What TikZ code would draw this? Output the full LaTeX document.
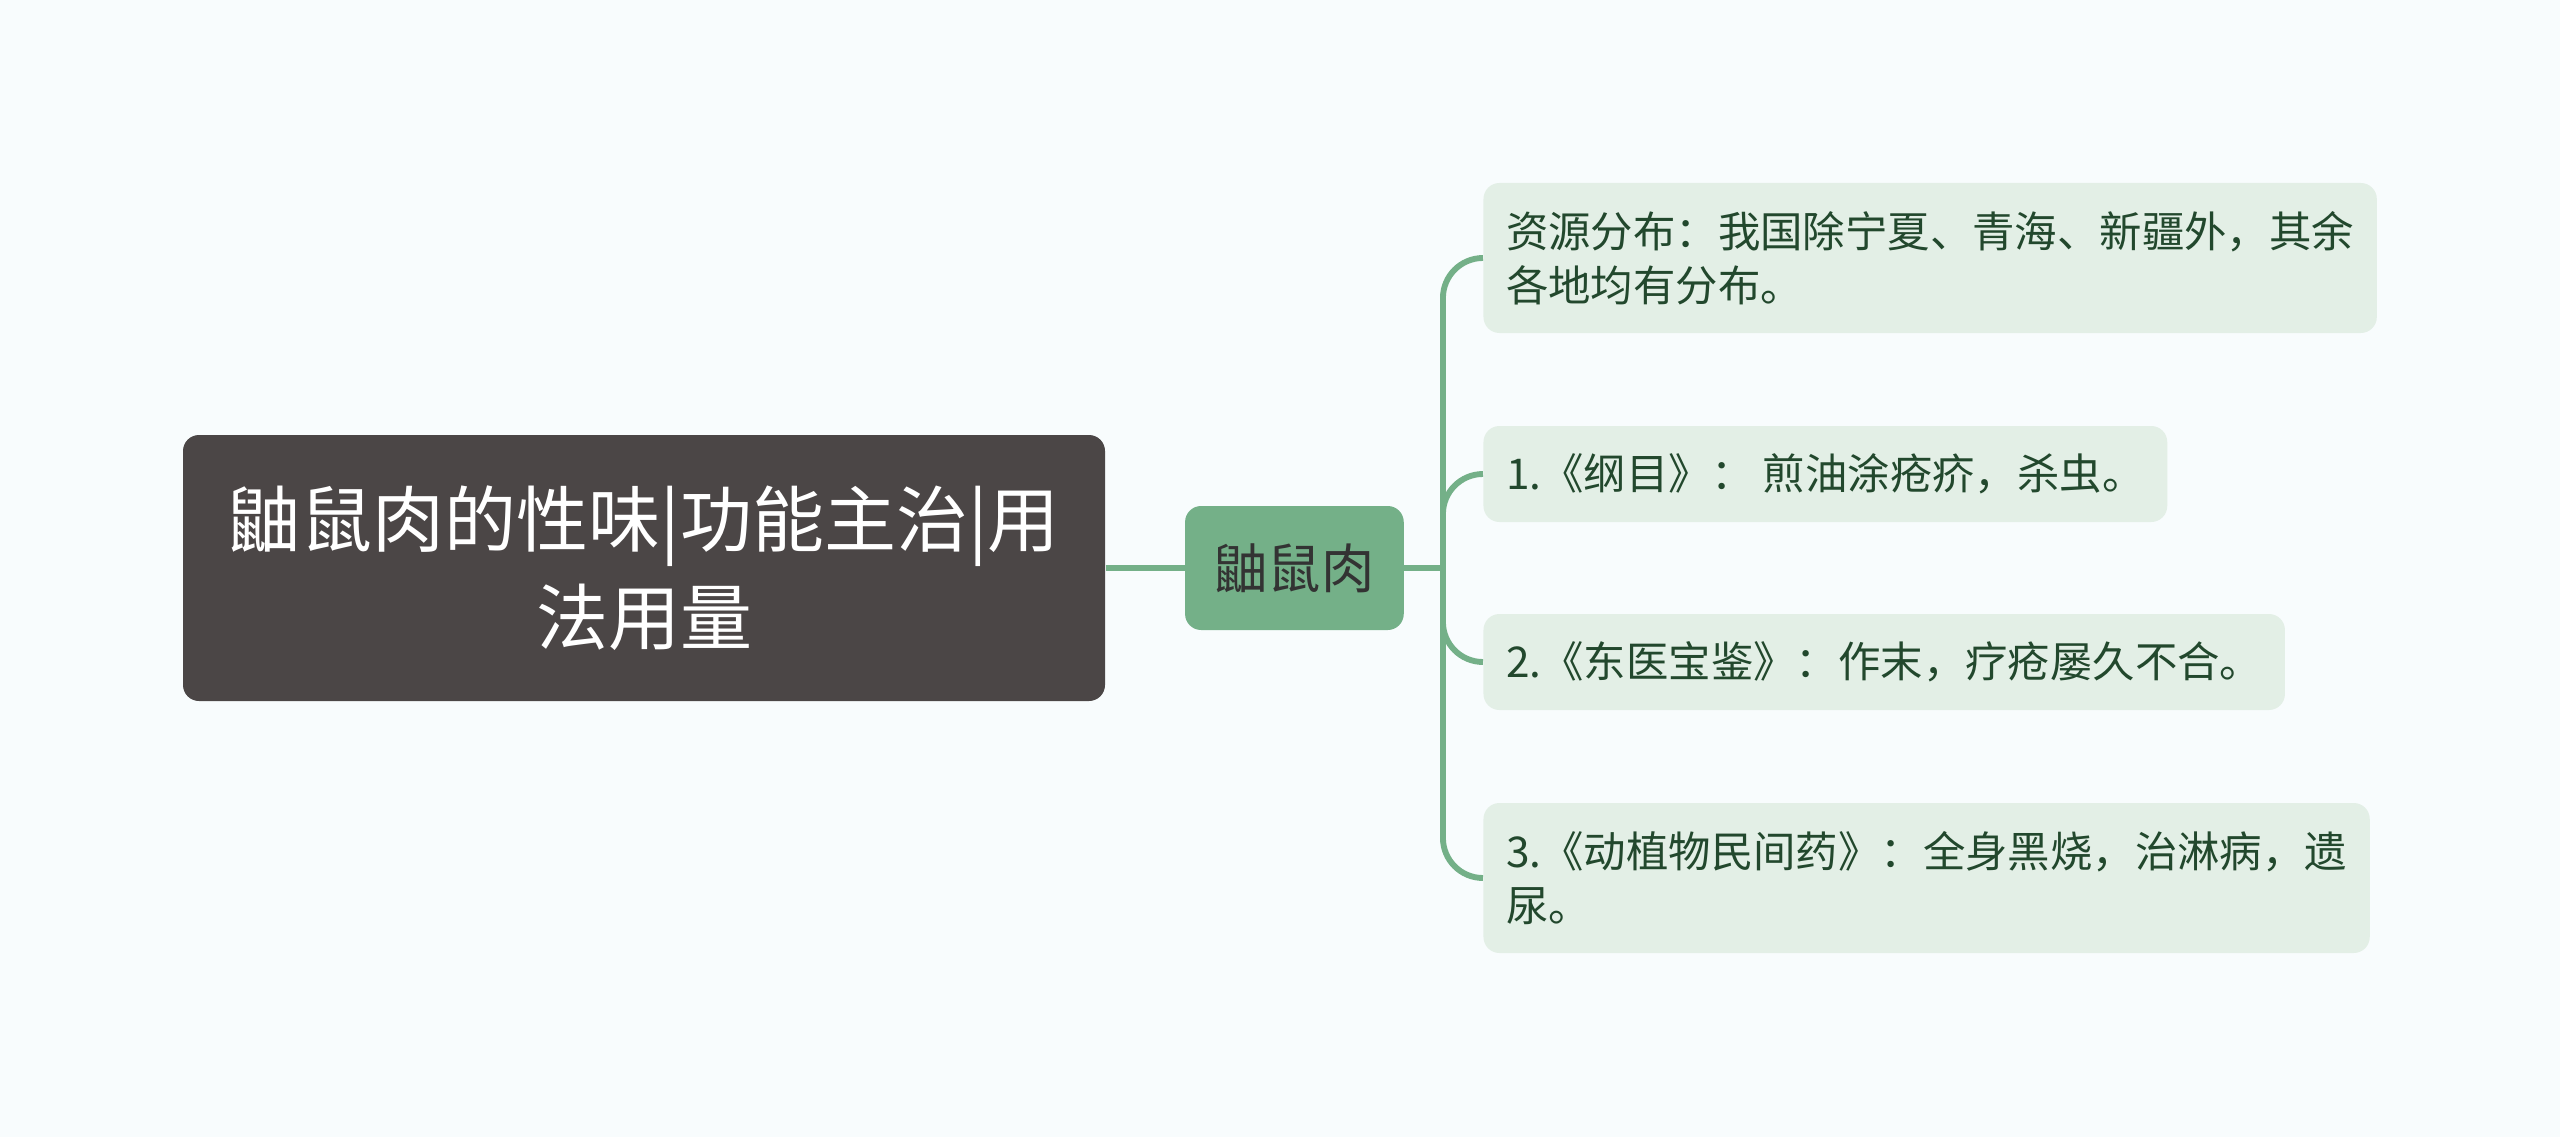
\documentclass[tikz,border=0pt]{standalone}
\usepackage{fontspec}
\newfontfamily\cjk{Noto Sans CJK SC}
\usepackage{tikz}
\definecolor{pagebg}{HTML}{F8FCFD}
\definecolor{rootgray}{HTML}{4B4646}
\definecolor{midgreen}{HTML}{74B088}
\definecolor{leafgreen}{HTML}{E3EFE6}
\definecolor{leaftext}{HTML}{22482D}
\definecolor{linkgreen}{HTML}{74B088}

\begin{document}
\begin{tikzpicture}[
    x=1pt, y=1pt,
    root/.style={fill=rootgray, text=white, rounded corners=6pt,
      minimum width=345.75pt, minimum height=99.75pt, align=center,
      font=\cjk\fontsize{27}{36.7}\selectfont},
    topic/.style={fill=midgreen, text=black!80, rounded corners=6pt,
      minimum width=82pt, minimum height=46.5pt,
      font=\cjk\fontsize{20}{24}\selectfont},
    leaf/.style={fill=leafgreen, text=leaftext, rounded corners=6pt,
      anchor=west, inner xsep=8.5pt, align=left,
      font=\cjk\fontsize{15.9}{20.2}\selectfont},
    link/.style={draw=linkgreen, line width=2.2pt},
    ]
    \useasboundingbox[fill=pagebg] (0,0) rectangle (960,-426.375);
    \node[root] (root) at (241.5,-213) {鼬鼠肉的性味|功能主治|用\\法用量};
    \node[topic] (mid) at (485.4,-213) {鼬鼠肉};
    \coordinate (fork) at (541.1,-213);
    \node[leaf, minimum height=56.25pt] (leafa) at (556.1,-96.75)
      {资源分布：我国除宁夏、青海、新疆外，其余\\各地均有分布。};
    \node[leaf, minimum height=36pt] (leafb) at (556.1,-177.75)
      {1.《纲目》： 煎油涂疮疥，杀虫。};
    \node[leaf, minimum height=36pt] (leafc) at (556.1,-248.25)
      {2.《东医宝鉴》：作末，疗疮屡久不合。};
    \node[leaf, minimum height=56.25pt] (leafd) at (556.1,-329.25)
      {3.《动植物民间药》：全身黑烧，治淋病，遗\\尿。};
    \draw[link] (root.east) -- (mid.west);
    \draw[link] (mid.east) -- (fork);
    \draw[link, rounded corners=15pt] (fork) |- (leafa.west);
    \draw[link, rounded corners=15pt] (fork) |- (leafb.west);
    \draw[link, rounded corners=15pt] (fork) |- (leafc.west);
    \draw[link, rounded corners=15pt] (fork) |- (leafd.west);
  \end{tikzpicture}
\end{document}
